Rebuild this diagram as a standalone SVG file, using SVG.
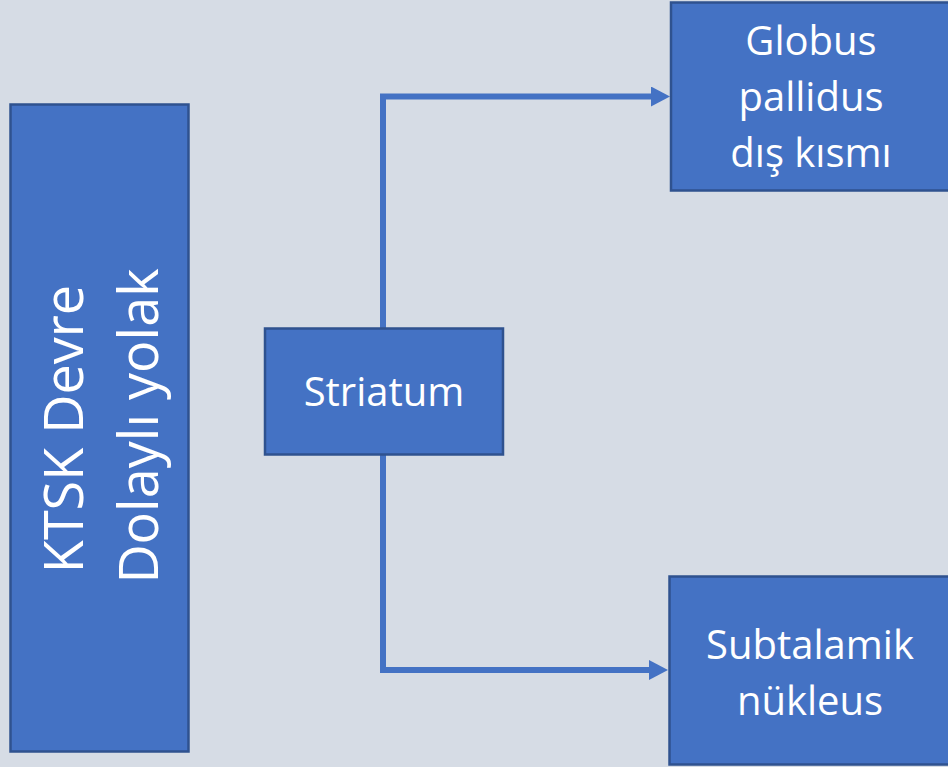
<svg xmlns="http://www.w3.org/2000/svg" width="948" height="767" viewBox="0 0 948 767">
<style>
.box{fill:#4472C4;stroke:#2F528F;stroke-width:2.5}
.t{fill:#FFFFFF;font-family:"Open Sans","Liberation Sans",sans-serif;text-anchor:middle}
.c{fill:none;stroke:#4472C4;stroke-width:6}
</style>
<defs>
<marker id="ah" markerUnits="userSpaceOnUse" markerWidth="19" markerHeight="20" refX="9" refY="10" orient="auto" viewBox="0 0 19 20">
<path d="M0,0 L19,10 L0,20 Z" fill="#4472C4"/>
</marker>
</defs>
<rect width="948" height="767" fill="#D6DCE5"/>
<g id="connectors">
<polyline class="c" points="383,328 383,96.5 660,96.5" marker-end="url(#ah)"/>
<polyline class="c" points="383,455 383,670 658,670" marker-end="url(#ah)"/>
</g>
<g id="ktsk">
<rect class="box" x="10.5" y="104.5" width="178" height="647"/>
<text class="t" font-size="54" transform="translate(83,429) rotate(-90)">KTSK Devre</text>
<text class="t" font-size="54" transform="translate(158,426) rotate(-90)">Dolaylı yolak</text>
</g>
<g id="striatum">
<rect class="box" x="265" y="328.5" width="238" height="126"/>
<text class="t" font-size="40" x="384" y="406">Striatum</text>
</g>
<g id="globus">
<rect class="box" x="671" y="2.5" width="282" height="188"/>
<text class="t" font-size="40" x="811" y="55">Globus</text>
<text class="t" font-size="40" x="811" y="111">pallidus</text>
<text class="t" font-size="40" x="811" y="167">dış kısmı</text>
</g>
<g id="subtalamik">
<rect class="box" x="669.5" y="576.5" width="283" height="188"/>
<text class="t" font-size="40" x="810" y="659">Subtalamik</text>
<text class="t" font-size="40" x="810" y="715">nükleus</text>
</g>
</svg>
